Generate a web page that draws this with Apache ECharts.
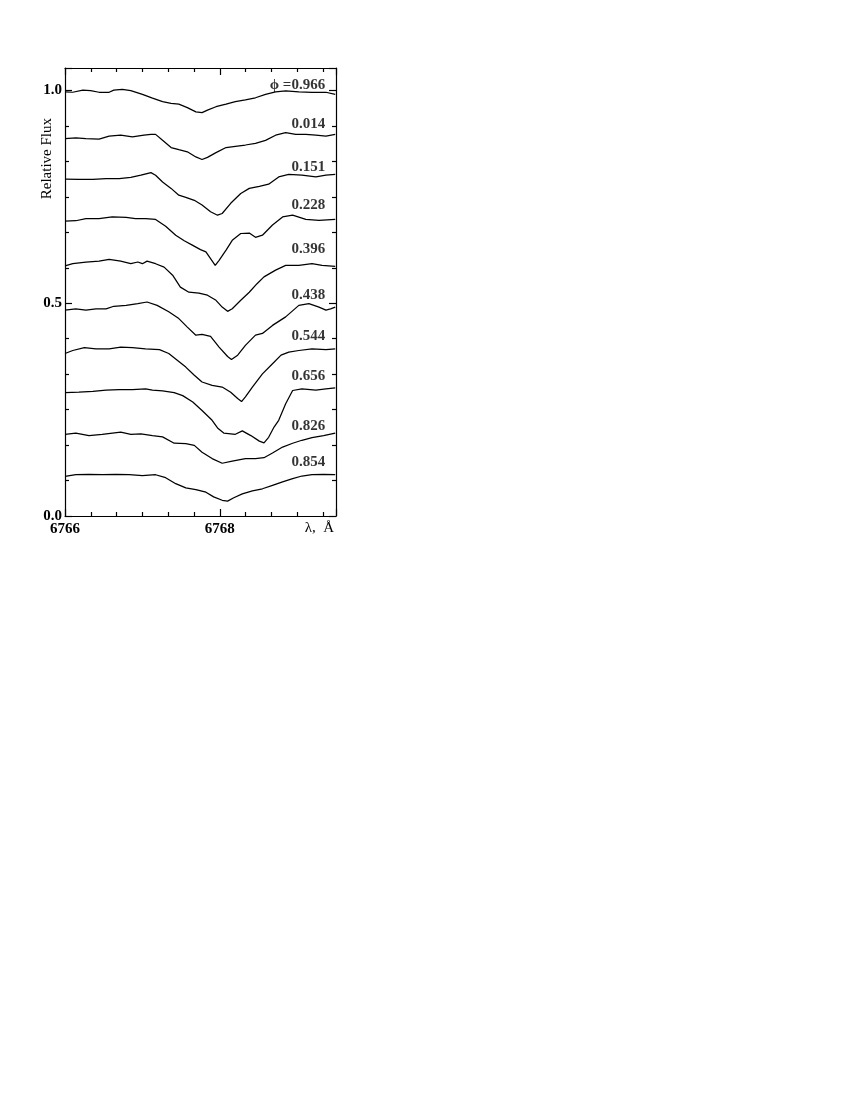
<!DOCTYPE html>
<html>
<head>
<meta charset="utf-8">
<script src="https://cdn.jsdelivr.net/npm/echarts@6/dist/echarts.min.js"></script>
<style>
html,body{margin:0;padding:0;background:#fff;}
#chart{width:850px;height:1100px;}
</style>
</head>
<body>
<div id="chart"></div>
<script>
// Spectra: [wavelength (Å), relative flux]
const phase0966 = [[6766.00,0.997],[6766.10,0.996],[6766.23,1.001],[6766.33,1.000],[6766.44,0.996],[6766.57,0.996],[6766.63,1.001],[6766.74,1.003],[6766.85,1.000],[6767.00,0.991],[6767.13,0.982],[6767.26,0.974],[6767.37,0.970],[6767.47,0.968],[6767.58,0.960],[6767.69,0.950],[6767.77,0.948],[6767.84,0.954],[6767.95,0.962],[6768.08,0.968],[6768.20,0.974],[6768.33,0.978],[6768.46,0.983],[6768.59,0.991],[6768.72,0.997],[6768.85,0.999],[6769.02,0.997],[6769.19,0.996],[6769.37,0.996],[6769.49,0.991]];
const phase0014 = [[6766.00,0.887],[6766.14,0.889],[6766.27,0.887],[6766.44,0.886],[6766.57,0.893],[6766.72,0.895],[6766.87,0.891],[6767.02,0.895],[6767.11,0.897],[6767.17,0.897],[6767.26,0.883],[6767.37,0.866],[6767.47,0.861],[6767.58,0.856],[6767.69,0.844],[6767.77,0.838],[6767.84,0.843],[6767.95,0.854],[6768.08,0.866],[6768.20,0.869],[6768.33,0.872],[6768.46,0.876],[6768.59,0.883],[6768.72,0.895],[6768.85,0.901],[6768.98,0.897],[6769.11,0.897],[6769.24,0.895],[6769.37,0.893],[6769.49,0.897]];
const phase0151 = [[6766.00,0.792],[6766.18,0.791],[6766.36,0.791],[6766.53,0.793],[6766.70,0.793],[6766.85,0.796],[6766.98,0.801],[6767.11,0.807],[6767.17,0.801],[6767.26,0.785],[6767.37,0.770],[6767.47,0.754],[6767.56,0.749],[6767.67,0.742],[6767.77,0.731],[6767.88,0.715],[6767.97,0.707],[6768.03,0.711],[6768.14,0.735],[6768.27,0.758],[6768.38,0.770],[6768.51,0.775],[6768.63,0.780],[6768.76,0.797],[6768.89,0.803],[6769.06,0.801],[6769.24,0.797],[6769.37,0.801],[6769.49,0.803]];
const phase0228 = [[6766.00,0.693],[6766.14,0.694],[6766.27,0.699],[6766.44,0.699],[6766.61,0.703],[6766.79,0.702],[6766.91,0.699],[6767.04,0.699],[6767.17,0.697],[6767.30,0.681],[6767.43,0.660],[6767.54,0.647],[6767.65,0.636],[6767.75,0.626],[6767.82,0.621],[6767.88,0.605],[6767.94,0.589],[6767.99,0.601],[6768.08,0.625],[6768.16,0.648],[6768.27,0.664],[6768.38,0.665],[6768.46,0.655],[6768.55,0.660],[6768.68,0.684],[6768.81,0.703],[6768.94,0.707],[6769.11,0.697],[6769.28,0.695],[6769.49,0.697]];
const phase0396 = [[6766.00,0.588],[6766.10,0.593],[6766.27,0.597],[6766.44,0.599],[6766.57,0.603],[6766.72,0.599],[6766.85,0.593],[6766.94,0.597],[6767.00,0.593],[6767.06,0.599],[6767.17,0.593],[6767.28,0.585],[6767.39,0.566],[6767.49,0.538],[6767.60,0.526],[6767.73,0.524],[6767.84,0.519],[6767.95,0.507],[6768.03,0.491],[6768.10,0.481],[6768.16,0.487],[6768.27,0.507],[6768.38,0.526],[6768.48,0.546],[6768.57,0.562],[6768.72,0.578],[6768.85,0.589],[6769.02,0.589],[6769.19,0.593],[6769.32,0.589],[6769.49,0.587]];
const phase0438 = [[6766.00,0.484],[6766.14,0.487],[6766.27,0.484],[6766.40,0.487],[6766.53,0.487],[6766.63,0.493],[6766.79,0.495],[6766.94,0.499],[6767.06,0.503],[6767.19,0.495],[6767.34,0.480],[6767.47,0.464],[6767.58,0.444],[6767.69,0.425],[6767.77,0.427],[6767.88,0.422],[6767.99,0.397],[6768.10,0.375],[6768.15,0.368],[6768.23,0.378],[6768.33,0.401],[6768.46,0.425],[6768.55,0.429],[6768.68,0.448],[6768.85,0.468],[6769.02,0.495],[6769.15,0.499],[6769.28,0.491],[6769.37,0.484],[6769.43,0.487],[6769.49,0.491]];
const phase0544 = [[6766.00,0.382],[6766.10,0.389],[6766.25,0.396],[6766.40,0.393],[6766.57,0.393],[6766.72,0.397],[6766.87,0.396],[6767.04,0.393],[6767.22,0.391],[6767.34,0.382],[6767.45,0.366],[6767.56,0.350],[6767.67,0.331],[6767.77,0.315],[6767.90,0.307],[6768.03,0.303],[6768.14,0.291],[6768.23,0.276],[6768.28,0.269],[6768.33,0.280],[6768.42,0.303],[6768.55,0.334],[6768.68,0.358],[6768.79,0.378],[6768.89,0.385],[6769.02,0.389],[6769.19,0.393],[6769.37,0.391],[6769.49,0.393]];
const phase0656 = [[6766.00,0.290],[6766.18,0.291],[6766.36,0.293],[6766.53,0.296],[6766.70,0.297],[6766.87,0.297],[6767.04,0.299],[6767.13,0.296],[6767.26,0.294],[6767.41,0.290],[6767.52,0.283],[6767.65,0.268],[6767.77,0.248],[6767.90,0.225],[6767.97,0.207],[6768.05,0.195],[6768.20,0.192],[6768.29,0.200],[6768.40,0.189],[6768.51,0.176],[6768.57,0.172],[6768.63,0.185],[6768.70,0.209],[6768.76,0.225],[6768.85,0.264],[6768.94,0.295],[6769.06,0.299],[6769.24,0.296],[6769.37,0.299],[6769.49,0.301]];
const phase0826 = [[6766.00,0.192],[6766.14,0.195],[6766.31,0.189],[6766.48,0.192],[6766.72,0.197],[6766.85,0.192],[6766.98,0.193],[6767.13,0.189],[6767.26,0.186],[6767.41,0.171],[6767.56,0.170],[6767.67,0.166],[6767.77,0.150],[6767.90,0.135],[6768.03,0.124],[6768.16,0.129],[6768.33,0.135],[6768.46,0.135],[6768.57,0.137],[6768.68,0.148],[6768.81,0.162],[6768.94,0.171],[6769.06,0.178],[6769.19,0.184],[6769.34,0.189],[6769.49,0.195]];
const phase0854 = [[6766.00,0.093],[6766.14,0.097],[6766.31,0.098],[6766.48,0.097],[6766.66,0.098],[6766.83,0.097],[6767.00,0.095],[6767.17,0.097],[6767.30,0.090],[6767.43,0.076],[6767.56,0.066],[6767.69,0.062],[6767.82,0.056],[6767.92,0.045],[6768.03,0.037],[6768.10,0.035],[6768.18,0.043],[6768.29,0.052],[6768.42,0.059],[6768.55,0.064],[6768.68,0.072],[6768.81,0.080],[6768.94,0.088],[6769.06,0.094],[6769.19,0.097],[6769.34,0.098],[6769.49,0.097]];

const spectra = [phase0966, phase0014, phase0151, phase0228, phase0396, phase0438, phase0544, phase0656, phase0826, phase0854];
const phaseLabels = ['\u03d5 =0.966', '0.014', '0.151', '0.228', '0.396', '0.438', '0.544', '0.656', '0.826', '0.854'];
const labelFlux = [1.013, 0.921, 0.821, 0.731, 0.627, 0.519, 0.422, 0.328, 0.211, 0.127];
const labelLambda = 6769.36;

const xMin = 6766, xMax = 6769.5, xStep = 2;
const yMin = 0, yMax = 1.053, yStep = 0.5;
const yTitle = 'Relative Flux';
const yTitleAt = 0.84; // flux level at which the axis title is centred

const serif = '"Liberation Serif", "Times New Roman", serif';
const black = '#000';

const chart = echarts.init(document.getElementById('chart'), null, {renderer: 'canvas'});

const lineSeries = spectra.map((d, i) => ({
  type: 'line',
  name: phaseLabels[i],
  data: d,
  xAxisIndex: 0, yAxisIndex: 0,
  showSymbol: false,
  symbol: 'none',
  smooth: false,
  lineStyle: {color: black, width: 1.25},
  silent: true,
  animation: false
}));

const labelSeries = {
  type: 'scatter',
  xAxisIndex: 0, yAxisIndex: 0,
  symbolSize: 0,
  silent: true,
  animation: false,
  data: phaseLabels.map((t, i) => ({value: [labelLambda, labelFlux[i]], name: t})),
  label: {
    show: true,
    position: 'left',
    distance: 0,
    formatter: '{b}',
    fontFamily: serif,
    fontWeight: 'bold',
    fontSize: 15,
    color: black
  }
};

const axisCommon = {
  axisLine: {show: true, onZero: false, lineStyle: {color: black, width: 1.2}},
  splitLine: {show: false},
};

chart.setOption({
  animation: false,
  backgroundColor: '#fff',
  grid: {left: 65, right: 514, top: 68, bottom: 584, containLabel: false},
  xAxis: [
    Object.assign({}, axisCommon, {
      type: 'value', position: 'bottom', min: xMin, max: xMax, interval: xStep,
      axisTick: {show: true, inside: true, length: 7, lineStyle: {color: black, width: 1.2}},
      minorTick: {show: true, splitNumber: 6, length: 4, lineStyle: {color: black, width: 1.2}},
      axisLabel: {show: true, margin: 6, fontFamily: serif, fontWeight: 'bold', fontSize: 15, color: black,
        showMaxLabel: false, formatter: v => String(Math.round(v))},
      name: '\u03bb,  \u00c5',
      nameLocation: 'end',
      nameGap: -2,
      nameTextStyle: {fontFamily: serif, fontSize: 15, color: black, align: 'right', verticalAlign: 'top', padding: [5, 0, 0, 0]}
    }),
    Object.assign({}, axisCommon, {
      type: 'value', position: 'top', min: xMin, max: xMax, interval: xStep,
      axisTick: {show: true, inside: true, length: 7, lineStyle: {color: black, width: 1.2}},
      minorTick: {show: true, splitNumber: 6, length: 4, lineStyle: {color: black, width: 1.2}},
      axisLabel: {show: false}
    })
  ],
  yAxis: [
    Object.assign({}, axisCommon, {
      type: 'value', position: 'left', min: yMin, max: yMax, interval: yStep,
      axisTick: {show: true, inside: true, length: 7, lineStyle: {color: black, width: 1.2}},
      minorTick: {show: true, splitNumber: 6, length: 4, lineStyle: {color: black, width: 1.2}},
      axisLabel: {show: true, margin: 3, fontFamily: serif, fontWeight: 'bold', fontSize: 15, color: black,
        showMaxLabel: false, formatter: v => v.toFixed(1)}
    }),
    Object.assign({}, axisCommon, {
      type: 'value', position: 'right', min: yMin, max: yMax, interval: yStep,
      axisTick: {show: true, inside: true, length: 7, lineStyle: {color: black, width: 1.2}},
      minorTick: {show: true, splitNumber: 6, length: 4, lineStyle: {color: black, width: 1.2}},
      axisLabel: {show: false}
    })
  ],
  series: lineSeries.concat([labelSeries])
});

// Y-axis title, centred at a chosen flux level via the axis scale
const titleY = chart.convertToPixel({yAxisIndex: 0}, yTitleAt);
const axisX = chart.convertToPixel({xAxisIndex: 0}, xMin);
chart.setOption({
  graphic: [{
    type: 'text',
    x: axisX - 18,
    y: titleY,
    rotation: Math.PI / 2,
    silent: true,
    style: {text: yTitle, fontFamily: serif, fontSize: 15, fill: black, align: 'center', verticalAlign: 'middle'}
  }]
});
</script>
</body>
</html>
